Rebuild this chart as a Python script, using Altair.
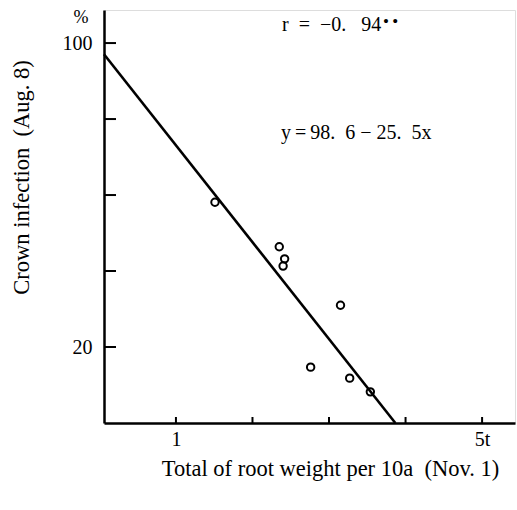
import altair as alt
import pandas as pd

# Observations: total root weight (t per 10a, Nov. 1) vs crown infection (%, Aug. 8)
root_weight = [1.51, 2.35, 2.42, 2.40, 3.15, 2.76, 3.27, 3.54]
infection = [58.1, 46.4, 43.2, 41.3, 31.0, 14.7, 11.8, 8.2]

# Fitted regression y = 98.6 - 25.5x
intercept = 98.6
slope = -25.5

x_ticks = [1, 2, 3, 4, 5]
y_ticks = [20, 40, 60, 80, 100]

X_DOMAIN = [0.06, 5.43]
Y_DOMAIN = [0, 108.7]
W, H = 411, 413
FONT = "Liberation Serif"
SP = "\u00a0"    # non-collapsing space
TH = "\u2009"    # thin space

points = pd.DataFrame({"x": root_weight, "y": infection})
x_end = -intercept / slope
fit = pd.DataFrame({"x": [X_DOMAIN[0], x_end],
                    "y": [intercept + slope * X_DOMAIN[0], intercept + slope * x_end]})

xs = alt.Scale(domain=X_DOMAIN, nice=False, zero=False)
ys = alt.Scale(domain=Y_DOMAIN, nice=False, zero=False)

x_axis = alt.Axis(
    values=[1, 5], ticks=False, grid=False,
    labelExpr="datum.value == 5 ? '5t' : datum.label",
    labelFont=FONT, labelFontSize=20, labelColor="black", labelPadding=6,
    domainColor="black", domainWidth=2.5,
    title="Total of root weight per 10a" + SP + SP + "(Nov." + SP + "1)",
    titleFont=FONT, titleFontSize=22.5, titleFontWeight="normal", titleColor="black",
    titleX=226, titleY=45, titleAnchor="middle", titleBaseline="middle",
)
y_axis = alt.Axis(
    values=[20, 100], ticks=False, grid=False,
    labelFont=FONT, labelFontSize=20, labelColor="black", labelPadding=12,
    domainColor="black", domainWidth=2.5,
    title="Crown infection" + SP + SP + "(Aug." + SP + "8)",
    titleFont=FONT, titleFontSize=22.5, titleFontWeight="normal", titleColor="black",
    titleX=-83, titleY=167, titleAngle=-90, titleAnchor="middle", titleBaseline="middle",
)


def xq(field):
    return alt.X(field, type="quantitative", scale=xs, axis=x_axis)


def yq(field):
    return alt.Y(field, type="quantitative", scale=ys, axis=y_axis)


scatter = alt.Chart(points).mark_point(
    shape="circle", filled=False, color="black", size=55, strokeWidth=2, opacity=1
).encode(x=xq("x"), y=yq("y"))

line = alt.Chart(fit).mark_line(color="black", strokeWidth=2.6).encode(
    x=xq("x"), y=yq("y")
)

# Inward tick marks on both axes
y_tick_marks = alt.Chart(pd.DataFrame({"v": y_ticks})).mark_rule(
    color="black", strokeWidth=2
).encode(y=yq("v"), x=alt.value(0), x2=alt.value(12))

x_tick_marks = alt.Chart(pd.DataFrame({"v": x_ticks})).mark_rule(
    color="black", strokeWidth=2
).encode(x=xq("v"), y=alt.value(H), y2=alt.value(H - 6))

# Unit label above the y axis, and the statistics annotations
unit = alt.Chart(pd.DataFrame({"t": ["%"]})).mark_text(
    font=FONT, fontSize=18, color="black", align="center", baseline="middle"
).encode(text="t:N", x=alt.value(-23), y=alt.value(8))

r_label = "r" + SP + SP + "=" + SP + SP + "\u22120." + SP + SP + SP + "94"
r_text = alt.Chart(pd.DataFrame({"t": [r_label]})).mark_text(
    font=FONT, fontSize=20, color="black", align="left", baseline="middle"
).encode(text="t:N", x=alt.value(178), y=alt.value(15))

r_stars = alt.Chart(pd.DataFrame({"t": ["\u2022" + TH + "\u2022"]})).mark_text(
    font=FONT, fontSize=17, color="black", align="left", baseline="middle"
).encode(text="t:N", x=alt.value(279), y=alt.value(12))

eq_label = "y" + TH + "=" + TH + "98." + SP + SP + "6" + SP + "\u2212" + SP + "25." + SP + SP + "5x"
eq_text = alt.Chart(pd.DataFrame({"t": [eq_label]})).mark_text(
    font=FONT, fontSize=20, color="black", align="left", baseline="middle"
).encode(text="t:N", x=alt.value(177), y=alt.value(123))

chart = alt.layer(
    scatter, line, y_tick_marks, x_tick_marks, unit, r_text, r_stars, eq_text
).properties(
    width=W, height=H,
    padding={"left": 104, "top": 10, "right": 2, "bottom": 87},
    autosize=alt.AutoSizeParams(type="none"),
).configure_view(stroke=None).configure(background="white")

chart.save("out.html", embed_options={"renderer": "svg", "actions": False})
